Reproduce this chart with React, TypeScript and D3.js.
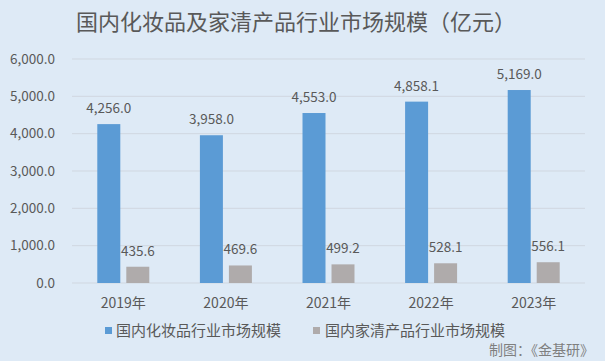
import React from 'react'
import * as d3 from 'd3'

const years = ['2019年', '2020年', '2021年', '2022年', '2023年']
const cosmetics = [4256.0, 3958.0, 4553.0, 4858.1, 5169.0]
const household = [435.6, 469.6, 499.2, 528.1, 556.1]
const seriesNames = ['国内化妆品行业市场规模', '国内家清产品行业市场规模']
const yTicks = [0, 1000, 2000, 3000, 4000, 5000, 6000]

const W = 605
const H = 361
const left = 72
const right = 585
const top = 59
const bottom = 283

const colors = ['#5b9bd5', '#afabab']
const textColor = '#595959'
const font = '"Noto Sans CJK SC", "Noto Sans", sans-serif'

export default function App() {
  const x = d3.scaleBand<string>().domain(years).range([left, right])
  const y = d3.scaleLinear().domain([0, 6000]).range([bottom, top])
  const fmt = d3.format(',.1f')
  const barW = 23
  const gap = 6

  return (
    <svg
      width={W}
      height={H}
      style={{ position: 'absolute', left: 0, top: 0, fontFamily: font }}
    >
      <rect x={0} y={0} width={W} height={H} fill="#deeaf6" />
      <text x={296} y={30} textAnchor="middle" fontSize={22} fill={textColor}>
        国内化妆品及家清产品行业市场规模（亿元）
      </text>

      {yTicks.map((t) => (
        <g key={t}>
          <line x1={left} x2={right} y1={y(t)} y2={y(t)} stroke="#d0d7e0" strokeWidth={1} />
          <text x={55} y={y(t) + 4.5} textAnchor="end" fontSize={13.5} fill={textColor}>
            {fmt(t)}
          </text>
        </g>
      ))}

      {years.map((yr, i) => {
        const c = x(yr)! + x.bandwidth() / 2
        const bx1 = c - gap / 2 - barW
        const bx2 = c + gap / 2
        return (
          <g key={yr}>
            <rect x={bx1} y={y(cosmetics[i])} width={barW} height={bottom - y(cosmetics[i])} fill={colors[0]} />
            <rect x={bx2} y={y(household[i])} width={barW} height={bottom - y(household[i])} fill={colors[1]} />
            <text x={bx1 + barW / 2} y={y(cosmetics[i]) - 11} textAnchor="middle" fontSize={13.5} fill={textColor}>
              {fmt(cosmetics[i])}
            </text>
            <text x={bx2 + barW / 2} y={y(household[i]) - 11} textAnchor="middle" fontSize={13.5} fill={textColor}>
              {fmt(household[i])}
            </text>
            <text x={c} y={308} textAnchor="middle" fontSize={14} fill={textColor}>
              {yr}
            </text>
          </g>
        )
      })}

      <rect x={105} y={327} width={7} height={7} fill={colors[0]} />
      <text x={116} y={336} fontSize={15} fill={textColor}>
        {seriesNames[0]}
      </text>
      <rect x={313} y={327} width={7} height={7} fill={colors[1]} />
      <text x={325} y={336} fontSize={15} fill={textColor}>
        {seriesNames[1]}
      </text>

      <text x={594} y={355} textAnchor="end" fontSize={14} fill="#7f7f7f">
        制图：《金基研》
      </text>
    </svg>
  )
}
